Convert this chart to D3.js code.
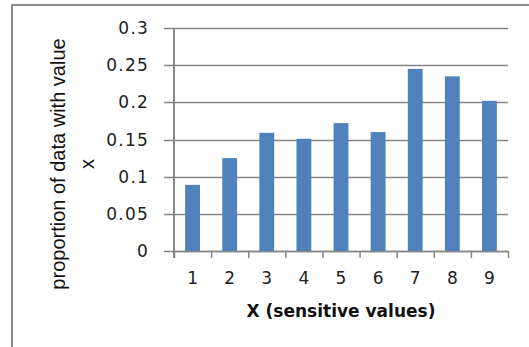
<!DOCTYPE html>
<html><head><meta charset="utf-8">
<script src="https://cdn.jsdelivr.net/npm/d3@7"></script>
<style>body{margin:0;background:#fff}svg{display:block}</style>
</head><body>
<script>
const categories = ["1","2","3","4","5","6","7","8","9"];
const values = [0.089, 0.125, 0.159, 0.151, 0.172, 0.160, 0.245, 0.235, 0.202];
const yTicks = [0, 0.05, 0.1, 0.15, 0.2, 0.25, 0.3];
const yTickLabels = ["0", "0.05", "0.1", "0.15", "0.2", "0.25", "0.3"];
const xTitle = "X (sensitive values)";
const yTitleLines = ["proportion of data with value", "x"];

const W = 529, H = 347;
const L = 174, R = 508, T = 28, B = 251;
const svg = d3.select("body").append("svg").attr("width", W).attr("height", H);

// frame
svg.append("path").attr("d", `M12,${H} L12,5 L${W},5`).attr("fill","none")
  .attr("stroke","#8c8c8c").attr("stroke-width",2);

const y = d3.scaleLinear().domain([0, 0.3]).range([B, T]);
const x = d3.scaleBand().domain(categories).range([L, R]).paddingInner(0.6).paddingOuter(0.3);
const xb = d3.scaleLinear().domain([0, categories.length]).range([L, R]);

// gridlines
svg.append("g").selectAll("line").data(yTicks).join("line")
  .attr("x1", L - 10).attr("x2", R)
  .attr("y1", d => Math.round(y(d)) + 0.5).attr("y2", d => Math.round(y(d)) + 0.5)
  .attr("stroke", "#868686").attr("stroke-width", 1.5);

// bars
svg.append("g").selectAll("rect").data(values).join("rect")
  .attr("x", (d, i) => x(categories[i])).attr("width", x.bandwidth())
  .attr("y", d => y(d)).attr("height", d => B - y(d))
  .attr("fill", "#4f81bd");

// y axis line
svg.append("line").attr("x1", L).attr("x2", L).attr("y1", T).attr("y2", B + 7)
  .attr("stroke", "#868686").attr("stroke-width", 2);

// x axis boundary ticks
const xAxis = d3.axisBottom(xb).tickValues(d3.range(0, categories.length + 1)).tickFormat("").tickSize(7).tickSizeOuter(0);
const gx = svg.append("g").attr("transform", `translate(0,${B})`).call(xAxis);
gx.select(".domain").attr("stroke", "#868686").attr("stroke-width", 1.5);
gx.selectAll(".tick line").attr("stroke", "#868686").attr("stroke-width", 1.5);

// y tick labels
svg.append("g").selectAll("text").data(yTicks).join("text")
  .attr("x", 149).attr("y", d => y(d)).attr("dy", "0.36em")
  .attr("text-anchor", "end")
  .style("font-family", "DejaVu Sans").style("font-size", "17px").style("letter-spacing", "1.2px")
  .attr("fill", "#222")
  .text((d, i) => yTickLabels[i]);

// x tick labels
svg.append("g").selectAll("text").data(categories).join("text")
  .attr("x", d => x(d) + x.bandwidth() / 2).attr("y", 278).attr("dy", "0.36em")
  .attr("text-anchor", "middle")
  .style("font-family", "DejaVu Sans").style("font-size", "17px")
  .attr("fill", "#222")
  .text(d => d);

// x title
svg.append("text").attr("x", 341).attr("y", 311).attr("dy", "0.36em")
  .attr("text-anchor", "middle")
  .style("font-family", "DejaVu Sans").style("font-weight", "bold").style("font-size", "17px")
  .attr("fill", "#111").text(xTitle);

// y title
const yt = svg.append("text").attr("transform", "translate(58,164) rotate(-90)")
  .attr("text-anchor", "middle")
  .style("font-family", "Liberation Sans").style("font-size", "20px").attr("fill", "#111");
yt.append("tspan").attr("x", 0).attr("dy", "0.36em").text(yTitleLines[0]);
yt.append("tspan").attr("x", 0).attr("dy", "1.45em").text(yTitleLines[1]);
</script>
</body></html>
